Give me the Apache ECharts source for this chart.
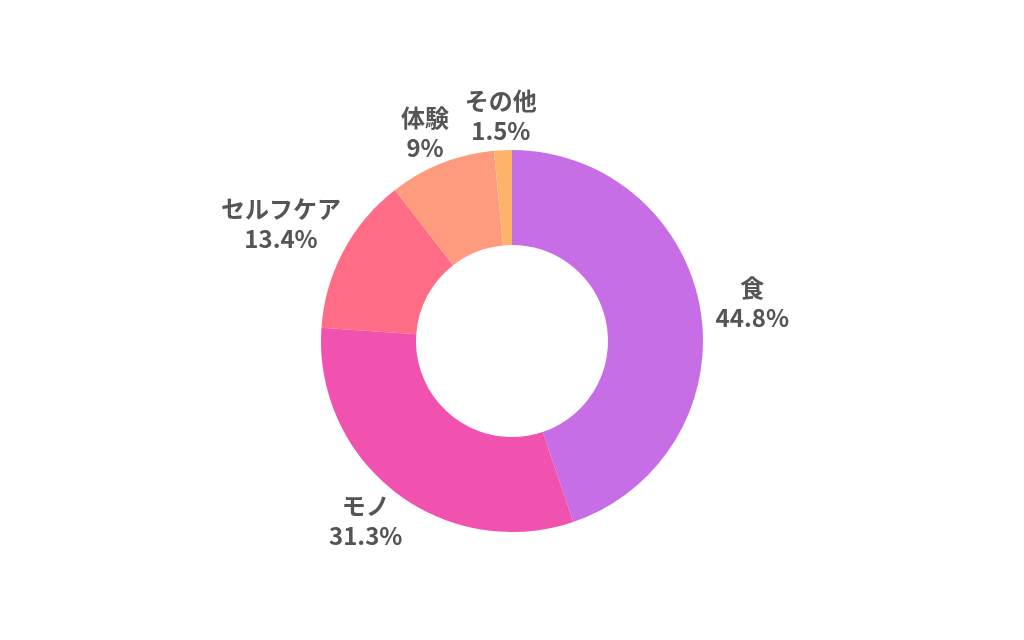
<!DOCTYPE html>
<html>
<head>
<meta charset="utf-8">
<script src="https://cdn.jsdelivr.net/npm/echarts@6/dist/echarts.min.js"></script>
<style>
html,body{margin:0;padding:0;background:#fff;}
#chart{width:1024px;height:640px;}
</style>
</head>
<body>
<div id="chart"></div>
<script>
var categories = ['食', 'モノ', 'セルフケア', '体験', 'その他'];
var values = [44.8, 31.3, 13.4, 9, 1.5];
var colors = ['#c76de6', '#f152af', '#fe6d85', '#fe9a7e', '#feb36b'];

var chart = echarts.init(document.getElementById('chart'), null, {renderer: 'canvas'});
var data = categories.map(function (c, i) {
  return {name: c, value: values[i], itemStyle: {color: colors[i]}};
});
chart.setOption({
  animation: false,
  backgroundColor: '#ffffff',
  series: [{
    type: 'pie',
    center: [512, 341],
    radius: [96, 191],
    startAngle: 90,
    clockwise: true,
    avoidLabelOverlap: false,
    data: data,
    itemStyle: {borderWidth: 0},
    label: {
      show: true,
      position: 'outside',
      formatter: function (p) { return p.name + '\n' + p.value + '%'; },
      fontFamily: 'Noto Sans CJK JP',
      fontWeight: 'bold',
      fontSize: 24,
      lineHeight: 30,
      color: '#555555',
      align: 'center'
    },
    labelLine: {show: true, length: 10, length2: 0, lineStyle: {opacity: 0, width: 0}},
    labelLayout: function (p) {
      var pts = p.labelLinePoints;
      if (!pts) return {};
      var dx = pts[1][0] - pts[0][0], dy = pts[1][1] - pts[0][1];
      var len = Math.sqrt(dx * dx + dy * dy) || 1;
      var ux = dx / len, uy = dy / len;
      var w = p.labelRect.width, h = p.labelRect.height;
      var ex = ux * w / 2, ey = uy * h / 2;
      var half = Math.sqrt(ex * ex + ey * ey);
      return {
        x: pts[0][0] + ux * (16 + half),
        y: pts[0][1] + uy * (4 + half),
        align: 'center',
        verticalAlign: 'middle'
      };
    },
    emphasis: {disabled: true}
  }]
});
</script>
</body>
</html>
